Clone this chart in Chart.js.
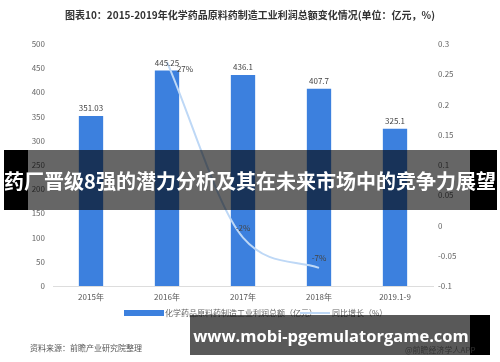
<!DOCTYPE html>
<html>
<head>
<meta charset="utf-8">
<script src="https://cdn.jsdelivr.net/npm/chart.js@4/dist/chart.umd.min.js"></script>
<style>
  body { margin: 0; background: #fff; font-family: "Noto Sans CJK SC", sans-serif; }
  #wrap { position: relative; width: 500px; height: 362px; overflow: hidden; }
  .abs { position: absolute; white-space: nowrap; }
  #title { left: 0; width: 500px; top: 7px; text-align: center; font-size: 10px; font-weight: bold; color: #333; }
  .blk { position: absolute; background: #000; }
  .dim { position: absolute; background: rgba(0,0,0,0.6); }
  #bannerTxt { left: 0; width: 500px; top: 166px; text-align: center; color: #fff; font-size: 20px; font-weight: bold; }
  #footTxt { left: 190px; width: 282px; top: 324px; text-align: center; color: #fff; font-size: 16.5px; font-weight: bold; font-family: "Open Sans", sans-serif; }
  #src { left: 30px; top: 342px; font-size: 8px; color: #555; }
  #at { left: 405px; top: 344px; font-size: 8px; color: #333; }
</style>
</head>
<body>
<div id="wrap">
  <canvas id="c" width="500" height="362"></canvas>
  <div class="abs" id="title">图表10：2015-2019年化学药品原料药制造工业利润总额变化情况(单位：亿元，%)</div>
  <div class="blk" style="left:4px;top:150px;width:24px;height:60px"></div>
  <div class="dim" style="left:28px;top:150px;width:442px;height:60px"></div>
  <div class="blk" style="left:470px;top:150px;width:27px;height:60px"></div>
  <div class="abs" id="bannerTxt">药厂晋级8强的潜力分析及其在未来市场中的竞争力展望</div>
  <div class="dim" style="left:190px;top:315px;width:280px;height:40px;background:rgba(0,0,0,0.65)"></div>
  <div class="blk" style="left:470px;top:315px;width:20px;height:40px"></div>
  <div class="abs" id="src">资料来源：前瞻产业研究院整理</div>
  <div class="abs" id="at">@前瞻经济学人APP</div>
  <div class="abs" id="footTxt">www.mobi-pgemulatorgame.com</div>
</div>
<script>
const years = ["2015年", "2016年", "2017年", "2018年", "2019.1-9"];
const profit = [351.03, 445.25, 436.1, 407.7, 325.1];
const growth = [null, 0.27, -0.02, -0.07, null];
const growthLabels = [null, "27%", "-2%", "-7%", null];
const barName = "化学药品原料药制造工业利润总额（亿元）";
const lineName = "同比增长（%）";

const barColor = "rgb(60,128,222)";
const lineColor = "rgb(190,216,246)";
const font = "Noto Sans CJK SC";

const labelPlugin = {
  id: "labels",
  afterDatasetsDraw(chart) {
    const ctx = chart.ctx;
    ctx.save();
    ctx.font = "8px '" + font + "'";
    ctx.fillStyle = "#444";
    ctx.textAlign = "center";
    ctx.textBaseline = "middle";
    chart.getDatasetMeta(0).data.forEach((el, i) => {
      ctx.fillText(String(profit[i]), el.x, el.y - 8);
    });
    chart.getDatasetMeta(1).data.forEach((el, i) => {
      if (growthLabels[i] == null) return;
      if (i === 1) ctx.fillText(growthLabels[i], el.x + 18, el.y + 7);
      else ctx.fillText(growthLabels[i], el.x, el.y - 10);
    });

    // legend
    const y = 313;
    ctx.fillStyle = barColor;
    ctx.fillRect(124, y - 3, 40, 6);
    ctx.fillStyle = "#666";
    ctx.textAlign = "left";
    ctx.fillText(barName, 165, y);
    ctx.strokeStyle = lineColor;
    ctx.lineWidth = 2;
    ctx.beginPath();
    ctx.moveTo(300, y);
    ctx.lineTo(330, y);
    ctx.stroke();
    ctx.fillText(lineName, 332, y);
    ctx.restore();
  }
};

new Chart(document.getElementById("c"), {
  type: "bar",
  data: {
    labels: years,
    datasets: [{
      label: barName,
      data: profit,
      backgroundColor: barColor,
      categoryPercentage: 0.32,
      barPercentage: 1,
      yAxisID: "y",
      order: 2
    }, {
      type: "line",
      label: lineName,
      data: growth,
      borderColor: lineColor,
      borderWidth: 2,
      pointRadius: 0,
      cubicInterpolationMode: "monotone",
      yAxisID: "y1",
      order: 1
    }]
  },
  options: {
    responsive: false,
    animation: false,
    layout: { padding: { top: 44, left: 0, right: 0, bottom: 0 } },
    plugins: { legend: { display: false }, tooltip: { enabled: false } },
    scales: {
      x: {
        grid: { display: false, drawTicks: false },
        border: { color: "#ddd" },
        ticks: { color: "#555", font: { family: font, size: 8 }, padding: 6 },
        afterFit(a) { a.height = 76; }
      },
      y: {
        position: "left",
        min: 0, max: 500,
        ticks: { stepSize: 50, color: "#666", font: { family: font, size: 8 }, padding: 8 },
        grid: { display: false, drawTicks: false },
        border: { display: false },
        afterFit(a) { a.width = 53; }
      },
      y1: {
        position: "right",
        min: -0.1, max: 0.3,
        ticks: { stepSize: 0.05, color: "#666", font: { family: font, size: 8 }, padding: 5,
          callback: v => String(Math.round(v * 100) / 100) },
        grid: { display: false, drawTicks: false },
        border: { display: false },
        afterFit(a) { a.width = 67; }
      }
    }
  },
  plugins: [labelPlugin]
});
</script>
</body>
</html>
